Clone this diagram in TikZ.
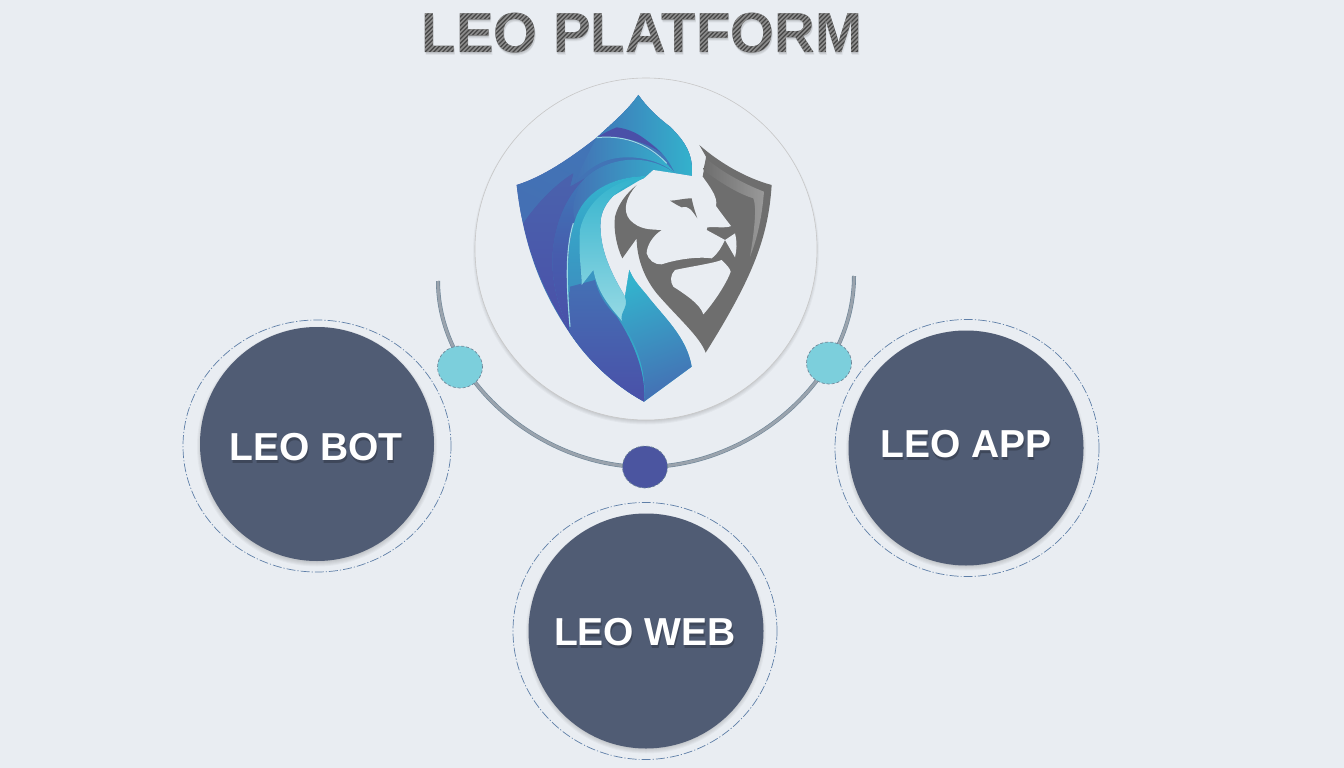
\documentclass[tikz,border=0pt]{standalone}
\usepackage{fontspec}
\setmainfont{Liberation Sans}
\usetikzlibrary{shapes.geometric}
\definecolor{bgc}{HTML}{E9EDF2}
\definecolor{slatec}{HTML}{505C74}
\definecolor{tealc}{HTML}{7CCFDC}
\definecolor{indigoc}{HTML}{4B55A0}
\definecolor{indigod}{HTML}{4A50A8}
\definecolor{arcc}{HTML}{9AA3AD}
\definecolor{arcd}{HTML}{6F8698}
\definecolor{greyc}{HTML}{6E6E6E}
\definecolor{ringc}{HTML}{5F7FA8}
\definecolor{HTMLb}{HTML}{3F78B8}
\definecolor{HTMLc}{HTML}{4470B4}
\definecolor{HTMLd}{HTML}{33B3CD}
\definecolor{HTMLe}{HTML}{4A62AD}
\definecolor{HTMLf}{HTML}{9ADBE5}
\tikzset{
  hub/.style={circle,fill=slatec,minimum size=#1,inner sep=0pt},
  ring/.style={ellipse,draw=ringc,line width=0.7pt,dash pattern=on 9pt off 2pt on 1.2pt off 2pt,inner sep=0pt,fill=none},
  dot/.style={ellipse,inner sep=0pt,draw=arcd,line width=0.7pt,densely dashed},
  hublabel/.style={text=white,font=\bfseries\fontsize{39}{41}\selectfont,anchor=base,inner sep=0pt},
  hubshadow/.style={text=black,opacity=0.22,font=\bfseries\fontsize{39}{41}\selectfont,anchor=base,inner sep=0pt},
  titlefont/.style={font=\bfseries\fontsize{56.4}{59}\selectfont,anchor=base,inner sep=0pt}
}
\newcommand{\softshadow}[3]{%
  \foreach \q in {-3,-2,-1,0,1,2,3}{
    \fill[black,opacity=0.03] (#1,#2+2.5) circle [radius=#3+\q];
  }%
}
\begin{document}
\begin{tikzpicture}[x=1pt,y=-1pt]
\useasboundingbox (0,0) rectangle (1344,768);
\fill[bgc] (0,0) rectangle (1344,768);

% title, with its soft shadow
\foreach \a/\b/\o in {0/1/0.08,0.5/2/0.08,1/3/0.05}{
  \node[titlefont,text=black,opacity=\o] at (642+\a,53+\b) {LEO PLATFORM};
}
\node[titlefont,text=black!72] (title) at (642,53) {LEO PLATFORM};
\begin{scope}[blend mode=lighten]
  \clip (415,5) rectangle (870,60);
  \foreach \i in {0,...,120}{
    \draw[line width=1.55pt,black!45] (360+\i*4.4,62) -- (360+\i*4.4+60,2);
  }
\end{scope}

% big circle
\softshadow{646}{249}{170}
\node[circle,fill=bgc,draw=black!22,line width=0.6pt,minimum size=342pt,inner sep=0pt] (core) at (646,249) {};

% logo, in the coordinates of a 3x view
\begin{scope}[x=0.33333pt,y=-0.33333pt,shift={(470pt,-70pt)}]
  % blue silhouette
  \shade[left color=indigod,right color=HTMLd,shading angle=40]
    (505,75) .. controls (470,125) and (420,165) .. (380,203)
    .. controls (300,265) and (220,320) .. (140,345)
    .. controls (160,520) and (210,660) .. (300,790)
    .. controls (360,880) and (440,950) .. (522,995)
    -- (665,890) .. controls (650,800) and (580,740) .. (530,675)
    .. controls (505,645) and (490,630) .. (478,600)
    -- (465,680) .. controls (430,620) and (385,540) .. (392,450)
    .. controls (400,380) and (480,330) .. (545,320)
    -- (510,312) -- (615,310) -- (665,318)
    .. controls (672,250) and (640,210) .. (600,170)
    .. controls (560,140) and (530,110) .. (505,75) -- cycle;
  % upper left lighter blue
  \shade[top color=HTMLb,bottom color=HTMLc,shading angle=-25]
    (505,75) .. controls (470,125) and (420,165) .. (380,203)
    .. controls (300,265) and (220,320) .. (140,345)
    .. controls (145,385) and (150,425) .. (160,460)
    .. controls (200,400) and (260,340) .. (310,310)
    -- (300,350) -- (345,325)
    .. controls (400,270) and (520,240) .. (615,310)
    -- (665,318) .. controls (672,250) and (640,210) .. (600,170)
    .. controls (560,140) and (530,110) .. (505,75) -- cycle;
  \shade[left color=HTMLb,right color=HTMLd]
    (505,75) .. controls (470,125) and (420,165) .. (380,203)
    .. controls (450,170) and (560,190) .. (615,310)
    -- (665,318) .. controls (672,250) and (640,210) .. (600,170)
    .. controls (560,140) and (530,110) .. (505,75) -- cycle;
  % indigo lower left
  \shade[top color=HTMLe,bottom color=indigod]
    (160,460) .. controls (200,400) and (260,340) .. (310,310)
    -- (300,350) -- (345,325)
    .. controls (300,370) and (255,440) .. (247,560)
    .. controls (245,650) and (270,720) .. (300,790)
    .. controls (235,690) and (185,580) .. (160,460) -- cycle;
  % darker band
  \shade[top color=HTMLb,bottom color=indigod,middle color=indigod!70!HTMLb]
    (345,325) .. controls (300,370) and (255,440) .. (247,560)
    .. controls (245,650) and (270,720) .. (300,790)
    .. controls (290,650) and (285,520) .. (320,440)
    .. controls (350,380) and (420,320) .. (530,318) -- cycle;
  % blue sweep under the cyan band
  \shade[left color=HTMLc,right color=HTMLd]
    (345,325) .. controls (400,270) and (520,240) .. (615,310)
    -- (530,318) .. controls (420,320) and (340,370) .. (315,450)
    .. controls (300,410) and (320,350) .. (345,325) -- cycle;
  % indigo wedge on top
  \fill[indigod] (380,203) .. controls (400,190) and (420,180) .. (440,172)
    .. controls (500,180) and (530,210) .. (575,250)
    .. controls (530,215) and (450,195) .. (380,203) -- cycle;
  % cyan band
  \shade[left color=HTMLc,right color=HTMLd]
    (380,203) .. controls (450,195) and (550,225) .. (615,310)
    .. controls (560,260) and (460,250) .. (400,275)
    .. controls (370,288) and (345,305) .. (310,345)
    .. controls (335,290) and (360,240) .. (380,203) -- cycle;
  \draw[HTMLf,line width=1pt] (380,203) .. controls (450,195) and (530,215) .. (590,280);
  % mane behind
  \shade[top color=HTMLd,bottom color=HTMLc]
    (530,318) .. controls (420,320) and (340,370) .. (315,450)
    .. controls (290,520) and (290,650) .. (300,790)
    .. controls (360,880) and (440,950) .. (522,995)
    .. controls (530,900) and (480,800) .. (440,740)
    .. controls (400,690) and (375,640) .. (370,600) -- (335,645)
    .. controls (325,560) and (330,450) .. (392,400) -- cycle;
  \shade[top color=HTMLc,bottom color=indigod]
    (300,650) .. controls (297,700) and (298,750) .. (300,790)
    .. controls (360,880) and (440,950) .. (522,995)
    .. controls (530,900) and (480,800) .. (440,740)
    .. controls (400,700) and (385,670) .. (375,630) -- cycle;
  \draw[HTMLf,line width=1.1pt] (300,770) .. controls (290,650) and (285,540) .. (310,460);
  % light mane strip
  \shade[top color=HTMLd,bottom color=HTMLf]
    (545,320) .. controls (430,320) and (345,400) .. (330,480)
    .. controls (325,560) and (335,600) .. (335,645) -- (370,600)
    .. controls (385,680) and (430,720) .. (470,770)
    -- (530,675) .. controls (505,645) and (490,630) .. (478,600)
    -- (465,680) .. controls (430,620) and (385,540) .. (392,450)
    .. controls (400,380) and (480,330) .. (545,320) -- cycle;
  % lower right part
  \shade[left color=HTMLd,right color=HTMLc,shading angle=20]
    (478,600) .. controls (490,630) and (505,645) .. (530,675)
    .. controls (580,740) and (650,800) .. (665,890)
    -- (522,995) .. controls (530,900) and (500,830) .. (465,770)
    .. controls (435,730) and (480,720) .. (465,680) -- cycle;
  % grey shield
  \fill[greyc]
    (688,225) .. controls (750,280) and (830,325) .. (905,345)
    .. controls (895,500) and (850,620) .. (707,848)
    .. controls (690,800) and (620,740) .. (560,670)
    .. controls (520,620) and (500,560) .. (500,505)
    -- (457,565) .. controls (440,530) and (430,480) .. (435,440)
    .. controls (445,400) and (470,370) .. (500,345)
    -- (560,430) -- (698,320)
    .. controls (703,290) and (708,275) .. (708,260) -- cycle;
  \shade[left color=greyc,right color=black!40]
    (708,265) .. controls (760,310) and (830,345) .. (882,365)
    .. controls (875,450) and (860,510) .. (840,560)
    .. controls (855,470) and (860,410) .. (850,385)
    .. controls (800,370) and (740,330) .. (700,300) -- cycle;
  % head
  \fill[bgc]
    (500,345) .. controls (470,380) and (455,420) .. (480,450)
    .. controls (510,480) and (540,478) .. (575,480)
    .. controls (545,500) and (530,530) .. (530,550)
    .. controls (535,570) and (555,585) .. (575,583)
    .. controls (630,565) and (690,560) .. (725,565)
    .. controls (745,550) and (755,530) .. (765,510)
    -- (710,480) -- (712,472) .. controls (740,470) and (770,475) .. (783,468)
    .. controls (765,445) and (750,425) .. (738,408)
    .. controls (745,380) and (715,345) .. (698,320)
    -- (665,318) -- (615,310) -- (550,300) -- cycle;
  \fill[greyc] (600,392) .. controls (620,392) and (640,385) .. (665,385)
    .. controls (670,410) and (675,425) .. (682,445)
    .. controls (665,420) and (655,405) .. (635,412)
    .. controls (620,405) and (610,398) .. (600,392) -- cycle;
  \fill[bgc] (615,600) .. controls (660,590) and (730,580) .. (755,570)
    .. controls (770,585) and (780,595) .. (782,605)
    .. controls (770,640) and (730,700) .. (700,733)
    .. controls (690,700) and (640,670) .. (610,650)
    .. controls (600,635) and (600,615) .. (615,600) -- cycle;
  \fill[bgc] (765,510) -- (795,490) .. controls (802,520) and (800,540) .. (795,562) -- cycle;
\end{scope}

% arc
\coordinate (arcL) at (438,281);
\coordinate (arcM) at (645,467);
\coordinate (arcR) at (854,276);
\draw[arcd,line width=4pt] (arcL) .. controls (438,380) and (540,467) .. (arcM) .. controls (750,467) and (854,380) .. (arcR);
\draw[arcc,line width=2.8pt] (arcL) .. controls (438,380) and (540,467) .. (arcM) .. controls (750,467) and (854,380) .. (arcR);
\node[dot,fill=tealc,minimum width=45pt,minimum height=42pt] (dotL) at (460,367) {};
\node[dot,fill=tealc,minimum width=45pt,minimum height=42pt] (dotR) at (829,363) {};
\node[dot,fill=indigoc,minimum width=45pt,minimum height=42pt] (dotM) at (645,467) {};

% hubs
\node[ring,minimum width=268pt,minimum height=252pt] (ringB) at (317,446) {};
\node[ring,minimum width=264pt,minimum height=257pt] (ringA) at (967,448) {};
\node[ring,minimum width=264pt,minimum height=257pt] (ringW) at (645,631) {};
\softshadow{317}{444}{117}
\softshadow{966}{448}{117}
\softshadow{646}{631}{117}
\node[hub=234pt] (bot) at (317,444) {};
\node[hub=235pt] (app) at (966,448) {};
\node[hub=235pt] (web) at (646,631) {};
\node[hubshadow] at (317,463) {LEO BOT};
\node[hubshadow] at (967,460) {LEO APP};
\node[hubshadow] at (646,648) {LEO WEB};
\node[hublabel] (tbot) at (316,460) {LEO BOT};
\node[hublabel] (tapp) at (966,457) {LEO APP};
\node[hublabel] (tweb) at (645,645) {LEO WEB};
\end{tikzpicture}
\end{document}
